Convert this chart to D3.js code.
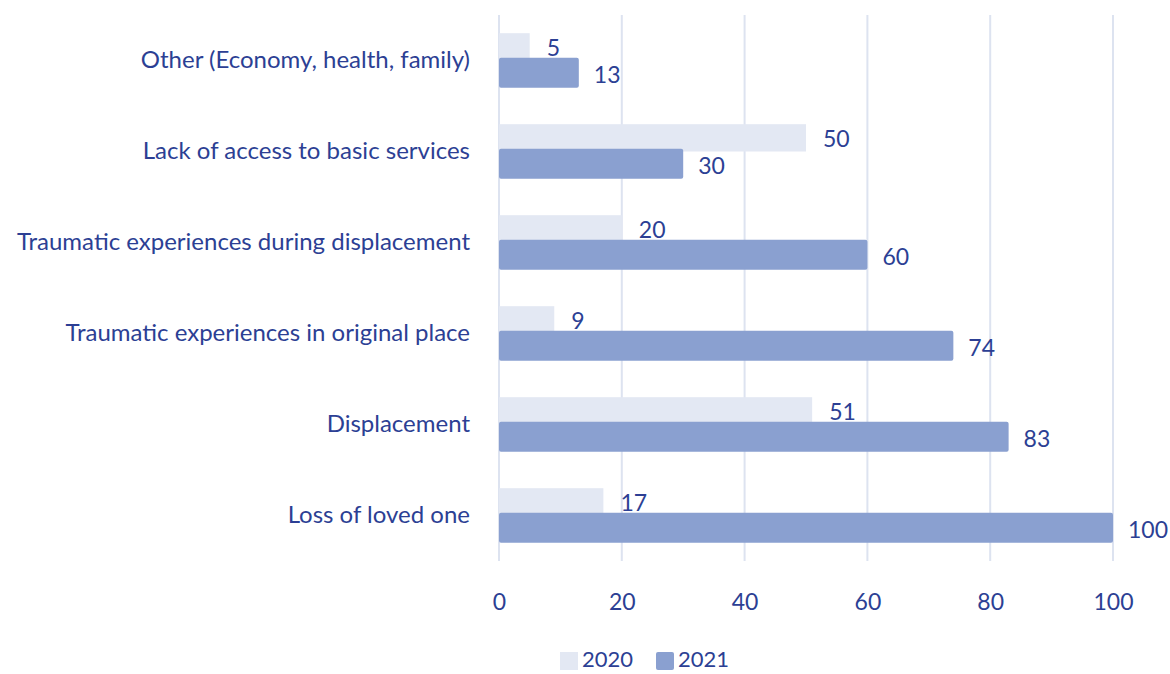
<!DOCTYPE html>
<html>
<head>
<meta charset="utf-8">
<script src="https://cdn.jsdelivr.net/npm/d3@7"></script>
<style>
  body { margin: 0; background: #fff; }
  text { font-family: Lato, "Open Sans", sans-serif; fill: #2c3f94; }
</style>
</head>
<body>
<script>
// chart data
var categories = [
    "Other (Economy, health, family)",
    "Lack of access to basic services",
    "Traumatic experiences during displacement",
    "Traumatic experiences in original place",
    "Displacement",
    "Loss of loved one"
];
var years = ["2020", "2021"];
var values2020 = [5, 50, 20, 9, 51, 17];
var values2021 = [13, 30, 60, 74, 83, 100];
var xTicks = [0, 20, 40, 60, 80, 100];

var colors = {"2020": "#e3e8f3", "2021": "#8aa0d0"};

var width = 1170, height = 674;
var margin = {top: 15, left: 499, right: 57, bottom: 113};

var svg = d3.select("body").append("svg")
    .attr("width", width)
    .attr("height", height);

var x = d3.scaleLinear().domain([0, 100]).range([margin.left, width - margin.right]);
var y = d3.scaleBand().domain(categories)
    .range([margin.top, height - margin.bottom])
    .paddingInner(0.4).paddingOuter(0.2);

// gridlines
svg.append("g")
    .selectAll("line")
    .data(xTicks)
    .enter().append("line")
    .attr("x1", function(d) { return x(d); })
    .attr("x2", function(d) { return x(d); })
    .attr("y1", margin.top)
    .attr("y2", height - margin.bottom)
    .attr("stroke", "#dde3f0")
    .attr("stroke-width", 2);

// x axis labels
var xAxis = svg.append("g")
    .attr("transform", "translate(0," + (height - margin.bottom + 33) + ")")
    .call(d3.axisBottom(x).tickValues(xTicks).tickSize(0).tickPadding(0));
xAxis.select(".domain").remove();
xAxis.selectAll("text")
    .style("font-size", "23px")
    .attr("dy", "0.71em")
    .attr("fill", "#2c3f94");

// category labels
var yAxis = svg.append("g")
    .attr("transform", "translate(" + (margin.left - 29) + ",0)")
    .call(d3.axisLeft(y).tickSize(0).tickPadding(0));
yAxis.select(".domain").remove();
yAxis.selectAll("text")
    .style("font-size", "24px")
    .attr("fill", "#2c3f94");

var rows = categories.map(function(c, i) {
    return {cat: c, v2020: values2020[i], v2021: values2021[i]};
});

var bw = y.bandwidth();
var h2020 = bw * 0.5, h2021 = bw * 0.55;

// 2020 bars
svg.append("g").selectAll("rect")
    .data(rows).enter().append("rect")
    .attr("x", x(0))
    .attr("y", function(d) { return y(d.cat); })
    .attr("width", function(d) { return x(d.v2020) - x(0); })
    .attr("height", h2020)
    .attr("fill", colors["2020"]);

// 2021 bars
svg.append("g").selectAll("rect")
    .data(rows).enter().append("rect")
    .attr("x", x(0))
    .attr("y", function(d) { return y(d.cat) + bw - h2021; })
    .attr("width", function(d) { return x(d.v2021) - x(0); })
    .attr("height", h2021)
    .attr("rx", 2)
    .attr("fill", colors["2021"]);

// value labels
svg.append("g").selectAll("text")
    .data(rows).enter().append("text")
    .attr("x", function(d) { return x(d.v2020) + 17; })
    .attr("y", function(d) { return y(d.cat) + h2020 / 2 + 1; })
    .attr("dy", "0.35em")
    .style("font-size", "23px")
    .text(function(d) { return d.v2020; });

svg.append("g").selectAll("text")
    .data(rows).enter().append("text")
    .attr("x", function(d) { return x(d.v2021) + 15; })
    .attr("y", function(d) { return y(d.cat) + bw - h2021 / 2 + 2; })
    .attr("dy", "0.35em")
    .style("font-size", "23px")
    .text(function(d) { return d.v2021; });

// legend
var legend = svg.append("g").attr("transform", "translate(560,659)");
var legendX = [0, 96];
years.forEach(function(yr, i) {
    var g = legend.append("g").attr("transform", "translate(" + legendX[i] + ",0)");
    g.append("rect")
        .attr("x", 0).attr("y", -7)
        .attr("width", 18).attr("height", 18)
        .attr("rx", i == 1 ? 2 : 0)
        .attr("fill", colors[yr]);
    g.append("text")
        .attr("x", 22).attr("y", 0)
        .attr("dy", "0.35em")
        .style("font-size", "22px")
        .text(yr);
});
</script>
</body>
</html>
